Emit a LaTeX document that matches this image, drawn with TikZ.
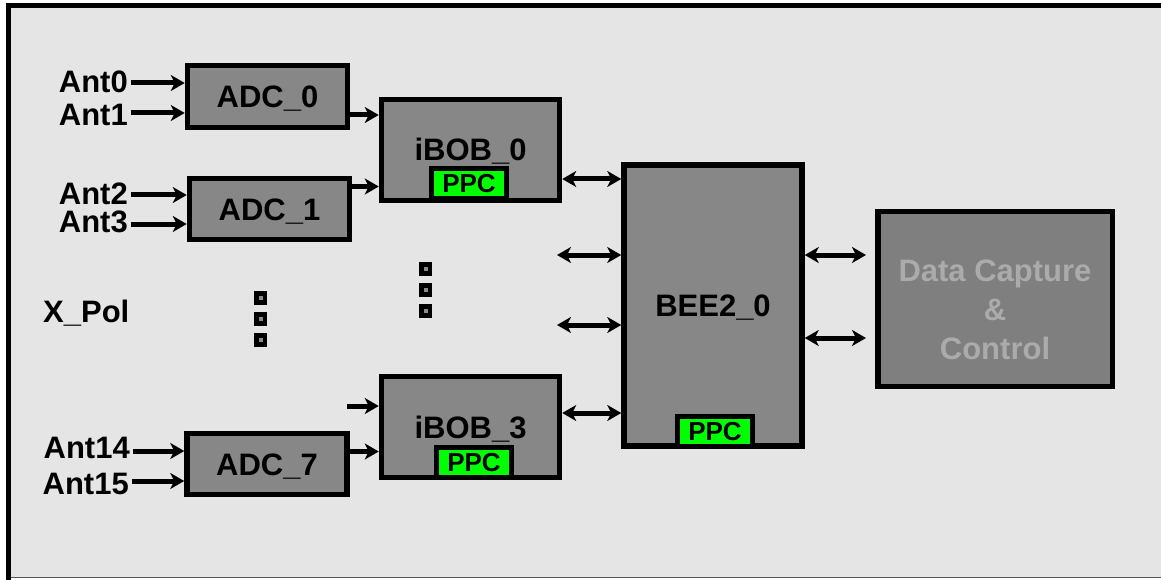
\documentclass[tikz,border=0pt]{standalone}
\usepackage{fontspec}
\setmainfont{Liberation Sans}
\usetikzlibrary{arrows.meta}
\definecolor{bg}{HTML}{E5E5E5}
\definecolor{boxgray}{HTML}{878787}
\definecolor{dcgray}{HTML}{7F7F7F}
\definecolor{dctext}{HTML}{ABABAB}
\definecolor{ppcgreen}{HTML}{00FF00}
\definecolor{dotgray}{HTML}{8A8A8A}
\definecolor{edgegray}{HTML}{555555}
\begin{document}
\begin{tikzpicture}[x=1pt,y=-1pt,
  bigfont/.style={font=\bfseries\fontsize{31}{39}\selectfont},
  blk/.style={draw=black, line width=5.5pt, fill=boxgray, bigfont, inner sep=0pt,
    text height=22pt, text depth=0pt},
  ppcbox/.style={draw=black, line width=5pt, fill=ppcgreen, inner sep=0pt,
    minimum width=75pt, minimum height=30pt,
    font=\bfseries\fontsize{26}{30}\selectfont, text height=18.5pt, text depth=0pt},
  antlbl/.style={bigfont, inner xsep=3pt, inner ysep=0pt, text height=22pt, text depth=0pt},
  arr/.style={line width=5pt, -{Stealth[length=14pt,width=16pt,inset=4pt]}},
  darr/.style={line width=5pt, {Stealth[length=14pt,width=16pt,inset=4pt]}-{Stealth[length=14pt,width=16pt,inset=4pt]}},
  dotsq/.style={fill=black, minimum width=13pt, minimum height=14pt, inner sep=0pt,
    path picture={\fill[dotgray] ([xshift=-2pt,yshift=-2pt]path picture bounding box.center) rectangle ++(4pt,4pt);}}
]
\useasboundingbox (0,0) rectangle (1161,580);
% frame
\fill[bg] (8.5,5.5) rectangle (1161,578);
\draw[line width=1.5pt, edgegray] (8.5,577.5) -- (1161,577.5);
\draw[line width=5pt, line join=miter] (8.5,580) -- (8.5,5.5) -- (1161,5.5);

% ADC boxes
\node[blk, minimum width=160pt, minimum height=62pt] (adc0) at (267.5,96.5) {ADC\_0};
\node[blk, minimum width=160pt, minimum height=61pt] (adc1) at (269.5,209) {ADC\_1};
\node[blk, minimum width=160pt, minimum height=61pt] (adc7) at (267,464) {ADC\_7};

% iBOB boxes
\node[blk, minimum width=178pt, minimum height=101pt] (ibob0) at (470.5,150) {iBOB\_0};
\node[ppcbox] (ppc0) at (469,183.3) {PPC};
\node[blk, minimum width=178pt, minimum height=101pt] (ibob3) at (470.5,427) {iBOB\_3};
\node[ppcbox] (ppc3) at (474,462) {PPC};

% BEE2
\node[blk, minimum width=178pt, minimum height=281pt] (bee) at (713,305.3) {BEE2\_0};
\node[ppcbox] (ppcb) at (715,431) {PPC};

% Data capture
\node[draw=black, line width=5.5pt, fill=dcgray, minimum width=234.5pt, minimum height=174.7pt] (dc) at (995.3,299) {};
\node[bigfont, text=dctext, align=center, inner sep=0pt] (dct) at (995,310) {Data Capture\\\&\\Control};

% antenna labels
\node[antlbl, anchor=east] (ant0) at (131,82) {Ant0};
\node[antlbl, anchor=east] (ant1) at (131,114.5) {Ant1};
\node[antlbl, anchor=east] (ant2) at (131,193.5) {Ant2};
\node[antlbl, anchor=east] (ant3) at (131,222) {Ant3};
\node[antlbl, anchor=east] (ant14) at (133,447) {Ant14};
\node[antlbl, anchor=east] (ant15) at (132,483) {Ant15};
\node[antlbl, anchor=west, inner xsep=0pt] (xpol) at (43,311) {X\_Pol};

% dots
\node[dotsq] (dl1) at (260.5,298) {};
\node[dotsq] (dl2) at (260.5,319) {};
\node[dotsq] (dl3) at (260.5,340) {};
\node[dotsq] (dm1) at (425.5,269) {};
\node[dotsq] (dm2) at (425.5,290) {};
\node[dotsq] (dm3) at (425.5,311) {};

% free ends
\coordinate (fin) at (347,406);
\coordinate (fl1) at (557,255);
\coordinate (fl2) at (557,325);
\coordinate (fr1) at (866,255);
\coordinate (fr2) at (866,338);

% antenna arrows
\draw[arr] (ant0.east |- 0,83) -- (adc0.west |- 0,83);
\draw[arr] (ant1.east |- 0,113) -- (adc0.west |- 0,113);
\draw[arr] (ant2.east |- 0,195) -- (adc1.west |- 0,195);
\draw[arr] (ant3.east |- 0,224) -- (adc1.west |- 0,224);
\draw[arr] (ant14.east |- 0,451) -- (adc7.west |- 0,451);
\draw[arr] (ant15.east |- 0,481) -- (adc7.west |- 0,481);

% ADC -> iBOB
\draw[arr] (adc0.east |- 0,115) -- (ibob0.west |- 0,115);
\draw[arr] (adc1.east |- 0,186.5) -- (ibob0.west |- 0,186.5);
\draw[arr] (fin) -- (ibob3.west |- fin);
\draw[arr] (adc7.east |- 0,451.5) -- (ibob3.west |- 0,451.5);

% iBOB <-> BEE2
\draw[darr] (ibob0.east |- 0,179) -- (bee.west |- 0,179);
\draw[darr] (fl1) -- (bee.west |- fl1);
\draw[darr] (fl2) -- (bee.west |- fl2);
\draw[darr] (ibob3.east |- 0,413) -- (bee.west |- 0,413);

% BEE2 <-> data capture
\draw[darr] (bee.east |- fr1) -- (fr1);
\draw[darr] (bee.east |- fr2) -- (fr2);
\end{tikzpicture}
\end{document}
